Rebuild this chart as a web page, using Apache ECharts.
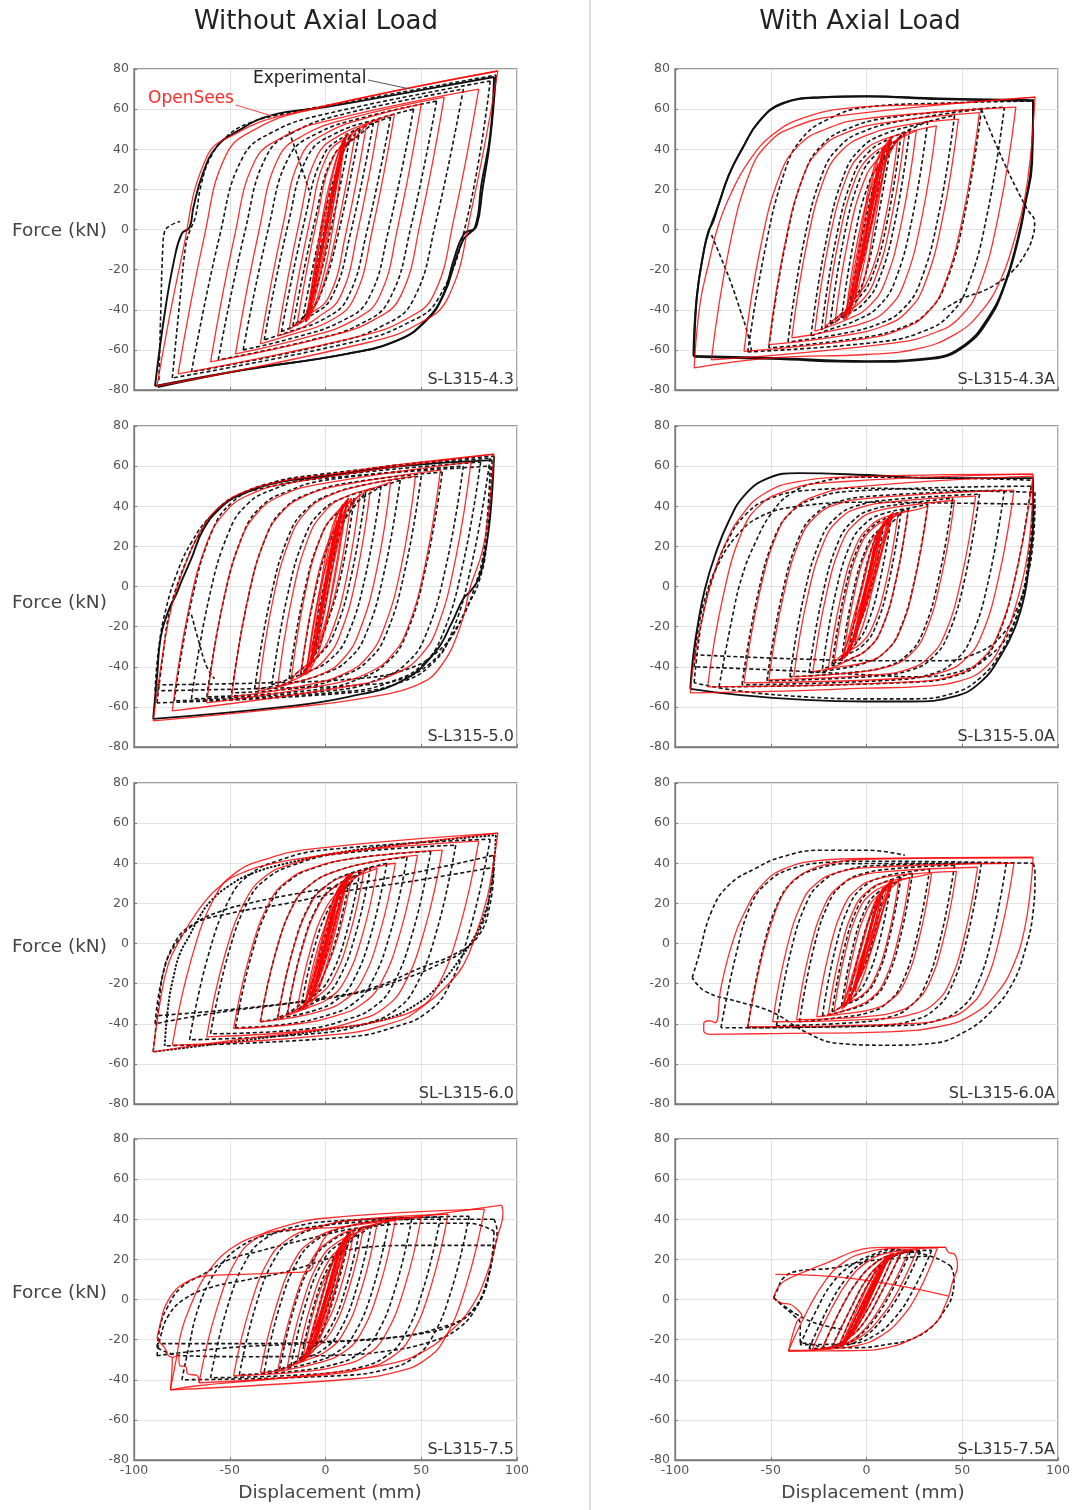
<!DOCTYPE html>
<html><head><meta charset="utf-8">
<script src="https://cdn.jsdelivr.net/npm/echarts/dist/echarts.min.js"></script>
<style>html,body{margin:0;padding:0;background:#fff}#chart{width:1075px;height:1510px}</style>
</head><body><div id="chart"></div>
<script>
// Force–displacement hysteresis, experimental (black) vs OpenSees (red).
// Each array holds loop branches; each branch is a list of [displacement mm, force kN].
// "Env" arrays are the outermost experimental loops, traced several times in the test.

const panelLabels = ['S-L315-4.3','S-L315-4.3A','S-L315-5.0','S-L315-5.0A','SL-L315-6.0','SL-L315-6.0A','S-L315-7.5','S-L315-7.5A'];
const colTitles = ['Without Axial Load','With Axial Load'];
const dispRange = [-100, 100];
const forceRange = [-80, 80];

// ---------- S-L315-4.3 ----------
const simL1 = [
[[0,0],[3,15]],[[3,15],[-3,-15]],[[-3,-15],[6,30]],[[6,30],[-6,-29]],
[[4,21],[-4,-20]],[[-4,-20],[1,4],[5,25]],[[5,25],[-1,-4],[-5,-24]],[[-5,-24],[2,9],[7,34]],
[[7,34],[-2,-10],[-7,-35]],[[-7,-35],[1,4],[6,32],[10,46]],[[10,46],[-1,-6],[-6,-30],[-9,-44]],[[-9,-44],[2,8],[8,38],[11,47]],
[[-9,-44],[-3,-2],[4,30],[10,46]],[[10,46],[4,2],[-3,-30],[-9,-45]],[[-10,-46],[1,3],[7,33],[11,47]],
[[11,47],[-1,-4],[-6,-28],[-10,-46]],[[-8,-42],[-2,0],[5,32],[9,44]],[[9,44],[2,0],[-4,-28],[-8,-42]],
[[-6,-29],[3,16],[7,34],[9,43]],[[9,43],[0,-2],[-5,-26],[-8,-40]],
[[-8,-40],[2,10],[7,33],[11,48]],[[11,48],[1,-2],[-6,-33],[-10.5,-46]],
[[-10.5,-46],[-0.1,6],[8.4,36],[12.5,45],[16,50]],
[[16,50],[5.4,-2.8],[-3.2,-33.5],[-9,-43],[-15,-48]],
[[-15,-48],[-4.3,5.6],[4.5,36.8],[16.2,46.6],[21.5,52.5]],
[[21.5,52.5],[10.6,-2],[1.7,-33.6],[-10.2,-43.4],[-19,-50]],
[[-19,-50],[-8,5],[1,37],[13,47.3],[21,52.2],[28,55]],
[[28,55],[16.8,-1.1],[7.6,-33.7],[-4.6,-44.2],[-13,-49.3],[-25,-53]],
[[-25,-53],[-13.7,3.7],[-4.4,36.6],[8,47.3],[24.6,53.9],[36,57.5]],
[[36,57.5],[24.4,-0.5],[14.9,-34.3],[2.2,-45.6],[-18.9,-52.7],[-34,-57]],
[[-34,-57],[-22.1,2.7],[-12.3,37.4],[0.7,48.2],[22.4,55.9],[50,62.5]],
[[50,62.5],[37.8,1.4],[27.8,-34.1],[14.5,-45.3],[-7.7,-53.2],[-47,-62]],
[[-47,-62],[-34.6,0],[-24.5,35.9],[-11,47.2],[11.5,55.2],[62,66]],
[[62,66],[49.5,3.3],[39.2,-33.2],[25.5,-44.9],[2.7,-53],[-60,-66]],
[[-60,-66],[-47.4,-2.8],[-37,34],[-23.2,45.6],[-0.2,53.9],[80,70]],
[[80,70],[67,5.1],[56.4,-32.7],[42.2,-44.6],[18.6,-53],[-77,-72]],
[[-77,-72],[-63.2,-3],[-51.9,37.2],[-36.8,49.9],[-11.7,58.8],[90,79]],
[[90,79],[75.8,7.8],[64.1,-33.7],[48.6,-47],[22.7,-56.2],[-88,-78]],
[[-88,-78],[-75,-13.2],[-62.1,36],[-46.6,47.9],[-20.7,57.2],[90,79]]
];
const expL1 = [
[[0,0],[4,20]],[[4,20],[-4,-20]],[[-4,-20],[3,13],[7,34]],[[7,34],[-1,-3],[-7,-33]],
[[-7,-33],[3,13],[7.5,32],[10,44]],[[10,44],[1,2],[-5,-25],[-9.5,-42]],
[[-9.5,-42],[1,7],[8,36],[13,47]],[[13,47],[3,1],[-5,-30],[-12,-45]],
[[-12,-45],[-0.9,6],[8.2,36],[13,44.5],[18,50]],
[[18,50],[6.5,-2.8],[-2.9,-33],[-10,-42],[-17,-48]],
[[-17,-48],[-5.3,5.6],[4.2,36.7],[16.9,46.6],[25,53]],
[[25,53],[13.1,-1.8],[3.3,-33.6],[-8.7,-43.6],[-23,-51]],
[[-23,-51],[-10.9,4.6],[-1,37],[11.2,47.2],[22,52],[34,56]],
[[34,56],[21.6,-1],[11.5,-34.2],[-0.5,-44.4],[-20.5,-51.5],[-32,-55]],
[[-32,-55],[-19.4,3.1],[-9,36.9],[4.8,47.7],[27.8,55.3],[46,60]],
[[46,60],[33,0],[22.3,-34.8],[8.1,-45.8],[-15.6,-53.7],[-43,-60]],
[[-43,-60],[-29.7,1],[-18.9,36.5],[-4.4,47.9],[19.7,55.8],[58,64]],
[[58,64],[44.6,1.3],[33.2,-35.2],[18.3,-47.1],[-6.5,-54.9],[-56,-65]],
[[-56,-65],[-41.9,-0.3],[-30.4,37.4],[-15,49.3],[10.6,57.8],[72,70]],
[[72,70],[57.5,3.1],[45.6,-35.5],[29.8,-48],[3.4,-56.7],[-70,-71]],
[[-70,-71],[-55.3,-3.3],[-43.2,36],[-27.1,48.8],[-0.3,57.5],[86,74]],
[[86,74],[73.9,5.3],[58.8,-34.6],[42.5,-46.8],[15.3,-55.9],[-80,-74]],
[[-80,-74],[-76,-35],[-73,-8],[-71,-1],[-68,6],[-65,22],[-60,36],[-52,46],[-40,53],[-20,58],[20,65],[89,77]],
[[-87,-75],[-86,-40],[-85,-10],[-84,-1],[-81,2],[-76,4]],
[[-19,49],[-14,35],[-8.5,19.5]]
];
const expL1Env = [
[[89,77],[86,45],[82,20],[79,2],[75,-2],[72,-5],[68,-15],[62,-32],[53,-45],[38,-55],[11,-62],[-43,-70],[-89,-78]],
[[-89,-78],[-84,-42],[-79,-15],[-75,-2],[-71,1],[-69,11],[-64,28],[-57,41],[-46,49],[-28,57],[0,61],[47,69],[88,76]],
[[88,76],[86,47],[81.5,23],[78,1],[72.5,-2],[67,-15],[61.7,-32],[52.7,-45],[38.3,-55],[11.3,-62],[-42.6,-70],[-87.6,-78.6]]
];

// ---------- S-L315-5.0 ----------
const simL2 = [
[[0,0],[4,24]],[[4,24],[-4,-24]],[[-4,-24],[4,22],[8,38]],[[8,38],[0,-2],[-4,-22],[-7,-38]],
[[4,24],[-4,-23]],[[-4,-23],[1,5],[6,33]],[[6,33],[-1,-6],[-6,-33]],[[-6,-33],[2,10],[9,40]],
[[9,40],[-1,-8],[-8,-40]],[[-8,-40],[1,5],[7,34],[12,44]],[[12,44],[0,-6],[-7,-35],[-11,-44]],
[[-10,-43],[-3,-2],[4,31],[11,43]],[[11,43],[4,2],[-3,-31],[-10,-44]],[[-11,-44],[1,3],[7,34],[12,44]],
[[12,44],[-1,-4],[-6,-30],[-11,-44]],[[-8,-40],[-2,0],[5,32],[9,41]],[[9,41],[2,0],[-4,-28],[-8,-40]],
[[-7,-38],[3,20],[8,36],[11,42]],[[11,42],[2,-10],[-6,-34],[-10,-43]],
[[-10,-43],[-3.6,-4.3],[4.3,23],[9,36],[13.5,44]],
[[13.5,44],[6.9,4.6],[-1.2,-23.5],[-7,-36],[-13,-45]],
[[-13,-45],[-6.3,-5],[1.9,23.6],[9.3,35.2],[14,41],[18,46]],
[[18,46],[11.2,5.3],[2.8,-23.7],[-4.8,-35.4],[-13.8,-42],[-18,-47]],
[[-18,-47],[-11,-5.2],[-2.5,24.5],[5.3,36.6],[14.6,43.2],[23.5,49]],
[[23.5,49],[16.4,6.3],[7.5,-24.3],[-0.4,-36.5],[-9.9,-43.3],[-25,-50]],
[[-25,-50],[-17.7,-6.4],[-8.8,24.6],[-0.7,37.1],[9,44.2],[26.8,49.6],[34,52]],
[[34,52],[26.7,8],[17.4,-23.2],[9.3,-36],[-0.5,-43],[-18.5,-48.5],[-35,-52]],
[[-35,-52],[-27.6,-7.4],[-18.3,24.4],[-10,37.3],[-0.1,44.4],[18,50.1],[47,55]],
[[47,55],[39.5,9.8],[29.9,-22.4],[21.5,-35.5],[11.5,-42.7],[-7,-48.5],[-49,-55]],
[[-49,-55],[-41.2,-9.1],[-31.7,23.5],[-23,36.8],[-12.7,44.2],[6.4,50.1],[60,58]],
[[60,58],[52.2,11.5],[42.6,-21.6],[33.9,-35],[23.5,-42.5],[4.3,-48.4],[-62,-58]],
[[-62,-58],[-54.1,-10.5],[-44.1,23.3],[-35.3,37],[-24.7,44.6],[-5.4,50.6],[76,62]],
[[76,62],[67.9,13.7],[58.3,-20.7],[49.4,-34.7],[38.6,-42.4],[18.9,-48.6],[-80,-62]],
[[-80,-62],[-71.7,-12.5],[-61.5,22.8],[-52.3,37.1],[-41.2,45.1],[-20.8,51.3],[88,66]],
[[88,66],[85.5,40],[82,18],[75.7,0],[70.4,-20],[60,-40],[48,-49],[20,-55.6],[-20,-60.5],[-90,-67]],
[[-90,-67],[-86,-40],[-82,-17],[-78,-2],[-72,14],[-65,28],[-56,39],[-44,46.5],[-23,52.5],[0,55.6],[37,60.6],[88,66]]
];
const expL2 = [
[[0,0],[5,28]],[[5,28],[-5,-28]],[[-5,-28],[3,15],[7,32],[9,40]],[[9,40],[1,-3],[-4,-26],[-8,-39]],
[[-8,-39],[-1.3,-2],[6.9,24],[11,36],[15,44]],
[[15,44],[7.9,4.8],[-0.8,-23],[-6,-35],[-13,-44]],
[[-13,-44],[-5.7,-4],[3.2,24.5],[11.3,35.2],[16,41],[21,47]],
[[21,47],[13.5,5.6],[4.3,-23.8],[-4,-35],[-12,-41],[-19,-46]],
[[-19,-46],[-11.4,-4.2],[-2.1,25.6],[6.4,36.8],[16.5,42.4],[29,50]],
[[29,50],[21.1,6.4],[11.4,-24.7],[2.6,-36.3],[-8,-42],[-28,-49]],
[[-28,-49],[-20,-5.1],[-10.3,26],[-1.5,38],[9,44],[28,49.5],[39,53]],
[[39,53],[30.7,7.5],[20.6,-24.8],[11.4,-36.9],[0.4,-43],[-20,-48.5],[-37,-51]],
[[-37,-51],[-28.7,-5.6],[-18.6,26.8],[-9.4,39],[1.6,45.5],[22,51],[50,55]],
[[50,55],[41.5,8.2],[31.1,-25],[21.6,-37.5],[10.3,-44],[-10,-50],[-49,-53]],
[[-49,-53],[-40.5,-6.2],[-30.1,27],[-20.6,39.6],[-9.3,46],[11,51.5],[61,57]],
[[61,57],[52.2,8.8],[41.5,-25.4],[31.8,-38.2],[20,-45],[-1,-51],[-62,-55]],
[[-62,-55],[-53.2,-6.9],[-42.5,27.4],[-32.8,40.5],[-21,47],[0,53],[72,60]],
[[72,60],[62.9,10],[51.8,-25.5],[41.7,-38.8],[29.6,-45.5],[7.4,-51.5],[-70,-56]],
[[-70,-56],[-61.1,-7],[-50.2,27.9],[-40.3,41.5],[-28.4,48],[-6.6,54],[81,62]],
[[81,62],[71.7,10.7],[60.3,-25.8],[50,-39.5],[37.5,-46.3],[14.8,-52],[-79,-57]],
[[-79,-57],[-69.9,-7],[-58.8,28.5],[-48.7,42],[-36.6,48.5],[-14.4,54.5],[86,64]],
[[86,64],[76.4,11.4],[64.7,-26],[54,-40],[41.3,-47],[17.8,-52.5],[-88,-58]],
[[-88,-58],[-85,-35],[-82,-15],[-78,-1],[-73,12],[-66,26],[-57,38],[-45,46],[-24,52.5],[0,55.6],[37,60.5],[88,65]],
[[87,63],[84,20],[80,2],[74,-10],[66,-25],[55,-38],[40,-46],[20,-49],[-20,-50.5],[-89,-52]],
[[-89,-52],[-87,-30],[-83,-10],[-77,8],[-70,22],[-60,35],[-48,44],[-28,50],[0,54],[86,60]],
[[86,60],[83,20],[78,0],[70,-18],[58,-33],[40,-42],[15,-46],[-30,-48],[-88,-49]],
[[-70,-14],[-66,-28],[-62,-40],[-58,-46]]
];
const expL2Env = [
[[88,65],[86,35],[83,15],[80,4],[76,-2],[72,-6],[66,-18],[57,-33],[40,-47],[12,-55],[-22,-60],[-90,-66]],
[[-90,-66],[-88,-45],[-86,-25],[-82,-12],[-78,-4],[-75,3],[-70,14],[-64,28],[-55,39],[-44,46],[-24,52],[0,55],[40,60],[87,63]]
];

// ---------- SL-L315-6.0 ----------
const simL3 = [
[[0,0],[4,17]],[[4,17],[-4,-17]],[[-4,-17],[4,16],[8,29]],[[8,29],[0,-4],[-8,-28]],
[[4,17],[-4,-16]],[[-4,-16],[2,9],[7,27]],[[7,27],[-1,-7],[-7,-26]],[[-7,-26],[2,8],[8,28],[12,34]],
[[12,34],[0,-5],[-7,-25],[-12,-33]],[[-12,-33],[1,4],[8,26],[13,35]],
[[-11,-32],[-3,-2],[5,24],[12,34]],[[12,34],[4,2],[-4,-24],[-11,-33]],[[-12,-33],[1,3],[8,27],[13,35]],
[[13,35],[-1,-4],[-7,-24],[-12,-33]],[[-9,-29],[-2,0],[5,24],[10,31]],[[10,31],[2,0],[-5,-22],[-9,-29]],
[[-8,-28],[2,12],[7,27],[11,33]],[[11,33],[3,1],[-5,-22],[-11,-32]],
[[-11,-32],[-4.1,-2.3],[4.3,18.8],[10,28.5],[14,35]],
[[14,35],[6.8,4.2],[-1.9,-17.7],[-8,-28],[-15,-34]],
[[-15,-34],[-7.8,-3],[1,19.1],[9,27.4],[14.6,32],[20,36]],
[[20,36],[12.6,4.3],[3.6,-18.3],[-4.6,-26.7],[-12,-31],[-20,-35.7]],
[[-20,-35.7],[-12.5,-3.4],[-3.3,19.5],[5,28.3],[15,33],[27,37.5]],
[[27,37.5],[19.4,4.6],[10,-18.7],[1.5,-27.5],[-8.7,-31.8],[-25,-37.4]],
[[-25,-37.4],[-17.2,-3.9],[-7.7,19.9],[0.9,29],[11.3,34],[30,39],[36.5,40]],
[[36.5,40],[28.4,5.4],[18.6,-19.3],[9.6,-28.5],[-1.1,-33.3],[-20.8,-37.5],[-34,-39]],
[[-34,-39],[-25.9,-4.1],[-16,20.7],[-7,30],[3.8,35.5],[23.6,40.5],[48,44]],
[[48,44],[39.3,6.4],[28.6,-20.3],[18.9,-30.3],[7.3,-35.5],[-14,-40],[-48,-42.4]],
[[-48,-42.4],[-39.3,-4.9],[-28.6,21.8],[-18.9,32],[-7.3,37.5],[14,42.3],[61,46.5]],
[[61,46.5],[51.7,6.7],[40.4,-21.6],[30.1,-32.5],[17.7,-38],[-5,-43],[-62,-46.5]],
[[-62,-46.5],[-52.6,-6],[-41.1,22.8],[-30.7,34],[-18.1,39.5],[4.9,45],[80,51]],
[[80,51],[70,7.8],[57.7,-22.9],[46.6,-34.4],[33.2,-40],[8.6,-45],[-80,-50.7]],
[[-80,-50.7],[-69.9,-7.2],[-57.5,23.8],[-46.3,35.7],[-32.8,41.5],[-8,47],[90,55]],
[[90,55],[87,35.7],[84.3,22.4],[79,5.8],[72,-10.8],[63.5,-20.8],[51.3,-30.7],[34,-37.4],[2.6,-42.4],[-40.9,-47.3],[-90,-54]],
[[-90,-54],[-86.5,-30],[-82,-10],[-75.6,2.5],[-67,15.8],[-56.5,27.4],[-44.3,34.9],[-23.5,40.7],[0,44],[37.4,49],[90,55]]
];
const expL3 = [
[[0,0],[5,20]],[[5,20],[-5,-20]],[[-5,-20],[3,12],[9,30]],[[9,30],[1,-4],[-9,-29]],
[[-9,-29],[-2,-2],[5,19],[10,29],[13,34]],[[13,34],[6,4],[-2,-18],[-8,-28],[-13,-33]],
[[-13,-33],[-5.9,-2.4],[2.8,19.4],[10.7,27.5],[18,36]],
[[18,36],[10.7,4.5],[1.7,-17.9],[-6.4,-26.3],[-14,-31],[-20,-35]],
[[-20,-35],[-12.5,-2.8],[-3.4,20],[5,28.6],[14.9,33.5],[23.5,38]],
[[23.5,38],[15.8,5],[6.4,-18.6],[-2.2,-27.4],[-12.4,-32],[-25,-37]],
[[-25,-37],[-17.2,-3.5],[-7.7,20.4],[1,29.3],[11.3,34.4],[32,40]],
[[32,40],[24,5.4],[14.1,-19.3],[5.2,-28.5],[-5.6,-33.3],[-25,-37.5],[-34,-39]],
[[-34,-39],[-25.9,-4.1],[-16,20.7],[-7,30],[3.8,35.5],[23.6,40.5],[42.6,43]],
[[42.6,43],[34,5.9],[23.4,-20.5],[13.8,-30.4],[2.3,-35.4],[-19,-40],[-47,-42]],
[[-47,-42],[-38.3,-4.6],[-27.7,21.9],[-18,32],[-6.5,37.5],[14.8,42.5],[55,46]],
[[55,46],[45.8,6.4],[34.5,-21.8],[24.3,-32.3],[12,-37.6],[-10.6,-42.7],[-60,-45]],
[[-60,-45],[-50.8,-5.4],[-39.5,22.8],[-29.3,33.3],[-17,39],[5,44.5],[68,49]],
[[68,49],[58.3,7.1],[46.4,-22.6],[35.6,-33.8],[22.6,-39.5],[-1,-44.5],[-71,-48]],
[[-71,-48],[-61.3,-6.2],[-49.4,23.6],[-38.6,35],[-25.6,41],[-1.9,46.5],[86,52]],
[[86,52],[75.7,7.9],[63.2,-23.5],[51.8,-35.2],[38.1,-41],[13,-46.5],[-84,-51]],
[[-90,-54],[-87,-30],[-84,-12],[-78,0],[-68,10],[-55,16],[-40,20],[-20,24],[10,29],[40,34],[88,44]],
[[88,44],[86,26],[82,10],[74,-2],[60,-10],[40,-18],[15,-25],[-20,-30],[-60,-35],[-89,-40]],
[[-89,-40],[-86,-20],[-80,-2],[-70,9],[-50,15],[-20,20],[10,26],[45,31],[88,38]],
[[88,38],[86,20],[80,4],[68,-5],[50,-12],[25,-22],[0,-27],[-40,-32],[-88,-36]]
];
const expL3Env = [
[[-84,-51],[-82,-30],[-79,-15],[-76,-5],[-71,4],[-66,13],[-60,21],[-50,29],[-38,35],[-20,40],[5,45],[40,49.5],[89,54]],
[[89,54],[88,40],[86,25],[82,12],[77,2],[70,-8],[60,-20],[48,-30],[30,-38],[0,-43],[-40,-48],[-90,-54]]
];

// ---------- S-L315-7.5 ----------
const simL4 = [
[[0,0],[4,14]],[[4,14],[-4,-14]],[[-4,-14],[4,12],[8,26]],[[8,26],[0,-5],[-8,-25]],
[[4,15],[-4,-14]],[[-4,-14],[2,8],[7,25]],[[7,25],[-1,-6],[-7,-24]],[[-7,-24],[2,9],[8,27],[12,33]],
[[12,33],[0,-5],[-7,-24],[-12,-31]],[[-12,-31],[1,3],[8,25],[14,35]],
[[-11,-30],[-3,-2],[5,22],[12,33]],[[12,33],[4,2],[-4,-22],[-11,-30]],[[-12,-31],[1,3],[8,26],[13,34]],
[[13,34],[-1,-4],[-7,-23],[-12,-31]],[[-9,-27],[-2,0],[5,22],[10,30]],[[10,30],[2,0],[-5,-20],[-9,-27]],
[[-8,-25],[2,8],[8,25],[12,32]],[[12,32],[4,2],[-5,-20],[-12,-30]],
[[-12,-30],[-4.9,-1.6],[3.8,18.5],[10,27.5],[15,34.5]],
[[15,34.5],[7.6,5],[-1.4,-15.9],[-8,-24.5],[-15,-32]],
[[-15,-32],[-7.4,-1.8],[1.8,19.6],[10.2,27.6],[20,36.5]],
[[20,36.5],[12.2,5.5],[2.7,-16.6],[-5.9,-24.9],[-12,-29.5],[-20,-34]],
[[-20,-34],[-12.1,-2.3],[-2.4,20.3],[6.4,28.7],[16.9,33.5],[27,38]],
[[27,38],[18.9,5.6],[9,-17.4],[0,-26],[-10.8,-30.5],[-25,-35.7]],
[[-25,-35.7],[-16.8,-2.9],[-6.7,20.7],[2.5,29.5],[13.4,34.5],[33,39],[36.5,39.5]],
[[36.5,39.5],[28.1,6],[17.9,-17.9],[8.6,-26.8],[-2.6,-31.3],[-23,-35.5],[-34,-36.5]],
[[-34,-36.5],[-25.6,-3],[-15.4,20.9],[-6.1,29.8],[5,35],[25.5,39],[50,41]],
[[50,41],[41.3,6.1],[30.6,-18.7],[20.9,-28],[9.3,-32.6],[-12,-36],[-48,-38]],
[[-48,-38],[-39.3,-3.4],[-28.7,21.3],[-19,30.5],[-7.5,35.2],[13.8,39.5],[64,42.5]],
[[64,42.5],[55,6.3],[43.9,-19.5],[33.9,-29.1],[21.8,-34],[-0.3,-37.5],[-66,-41.5]],
[[-66,-41.5],[-56.8,-4.8],[-45.6,21.3],[-35.4,31],[-23.2,36],[-0.7,40.5],[83,45]],
[[83,45],[73.4,6.8],[61.7,-20.4],[51.1,-30.7],[38.3,-35.8],[14.9,-39.5],[-81,-45]],
[[-81,-45],[-78,-30],[-75,-15],[-70,-2],[-64,10],[-57,19],[-50,25],[-41,30],[-29,33.6],[-15,35],[0,35.7],[11,36.5],[92,47]],
[[92,47],[92.7,43],[90,32],[84,12],[76,-4],[65,-16],[51,-26],[34,-32],[3,-36.5],[-32,-40],[-67,-43],[-81,-45]],
[[-66,-41.5],[-67,-38],[-72,-37],[-73,-33.5],[-76,-33],[-77,-28],[-80,-29]],
[[-81,-45],[-80,-29],[-82,-28],[-84,-24],[-86,-22],[-88,-19]],
[[-88,-19],[-86,-11],[-84,-4],[-79,4],[-72,9],[-64,11.6],[-40,12.6],[-20,13.4],[-9,14.2],[-5,22],[-1,30],[3,34.5]]
];
const expL4 = [
[[0,0],[5,16]],[[5,16],[-5,-15]],[[-5,-15],[4,14],[9,27]],[[9,27],[1,-4],[-9,-25]],
[[-9,-25],[-1,5],[5,21],[10,29],[13,33]],[[13,33],[5,3],[-3,-18],[-9,-27],[-13,-31]],
[[-13,-31],[-5.7,-1.8],[3.3,19],[11.4,26.8],[18,35.5]],
[[18,35.5],[10.4,5.1],[1.1,-16.5],[-7.3,-24.6],[-13,-29],[-18,-33]],
[[-18,-33],[-10.3,-2.2],[-0.9,19.7],[7.7,28],[17.9,32.5],[24,37]],
[[24,37],[16.1,5.3],[6.4,-17.3],[-2.4,-25.7],[-12.9,-30],[-24,-35]],
[[-24,-35],[-15.9,-2.6],[-6,20.4],[3,29],[13.8,34],[33,38.5]],
[[33,38.5],[24.8,5.6],[14.7,-17.7],[5.6,-26.5],[-5.4,-31],[-25.5,-35.2],[-32,-36]],
[[-32,-36],[-23.7,-2.7],[-13.5,21],[-4.3,29.9],[6.8,35],[27,39],[45,40]],
[[45,40],[36.5,5.8],[26,-18.5],[16.5,-27.6],[5.1,-32.2],[-15.8,-35.7],[-45,-37.5]],
[[-45,-37.5],[-36.4,-3.1],[-25.9,21.4],[-16.3,30.6],[-4.9,35.5],[16.1,39.5],[60,41]],
[[60,41],[51.2,5.7],[40.4,-19.4],[30.6,-28.9],[18.8,-33.6],[-2.7,-37],[-60,-39]],
[[-60,-39],[-51.2,-3.7],[-40.4,21.4],[-30.6,30.9],[-18.8,35.6],[2.7,39],[75,41.5]],
[[75,41.5],[66,5.5],[55,-20],[45,-29.7],[33,-34.5],[11,-37.8],[-75,-40]],
[[-75,-40],[-71,-22],[-67,-6],[-61,8],[-54,18],[-45,26],[-33,31.5],[-15,35],[10,38],[50,40],[88,40]],
[[88,40],[89.6,34],[88,24],[84,8],[80,-2],[70,-14],[55,-21],[30,-26],[0,-28],[-40,-28.5],[-75,-28],[-88,-24]],
[[-88,-24],[-86,-12],[-82.6,-4],[-75.6,5.8],[-64,12.5],[-50,20],[-35,24],[-10,30],[20,36],[60,38],[75,38],[88,34]],
[[88,34],[87,22],[84,8],[78,-4],[68,-12],[50,-17],[20,-20],[-10,-22],[-50,-24],[-88,-28]],
[[-88,-28],[-86,-18],[-82,-8],[-74,0],[-60,6],[-40,10],[-20,14],[0,20],[20,26],[50,27],[88,27]],
[[88,27],[86,15],[82,2],[74,-8],[60,-14],[35,-19],[0,-21],[-40,-22],[-88,-22]]
];

// ---------- S-L315-4.3A ----------
const simR1 = [
[[0,0],[4,22]],[[4,22],[-4,-22]],[[-4,-22],[4,20],[8,36]],[[8,36],[0,-4],[-8,-37]],
[[4,22],[-4,-22]],[[-4,-22],[1,5],[6,33]],[[6,33],[-1,-6],[-6,-34]],[[-6,-34],[2,10],[9,41]],
[[9,41],[-1,-8],[-9,-42]],[[-9,-42],[1,4],[8,36],[13,45]],[[13,45],[0,-6],[-8,-38],[-12,-45]],
[[-11,-44],[-3,-2],[4,31],[12,45]],[[12,45],[4,2],[-3,-31],[-11,-45]],[[-12,-45],[1,3],[7,34],[13,46]],
[[13,46],[-1,-4],[-6,-30],[-12,-45]],[[-9,-41],[-2,0],[5,32],[10,42]],[[10,42],[2,0],[-4,-28],[-9,-41]],
[[-8,-37],[2,14],[8,35],[12,43]],[[12,43],[3,3],[-5,-26],[-11,-44]],
[[-11,-44],[-4.4,-4.2],[3.75,24.1],[11.1,36],[16.5,46]],
[[16.5,46],[9.7,5],[1.3,-24.1],[-6.3,-35],[-16.5,-46.6]],
[[-16.5,-46.6],[-9.6,-4.9],[-1.1,24.7],[6.6,35.8],[14,42],[20,47.6]],
[[20,47.6],[12.9,5],[4.2,-25.2],[-3.7,-36.6],[-13.2,-42.3],[-21.7,-48.3]],
[[-21.7,-48.3],[-14.5,-5.2],[-5.7,25.5],[2.3,37],[11.9,42.7],[26,49.3]],
[[26,49.3],[18.6,5.1],[9.6,-26.4],[1.4,-38.2],[-8.4,-44.1],[-27,-50.7]],
[[-27,-50.7],[-19.5,-5.8],[-10.4,26.1],[-2.1,38.5],[7.9,44.5],[26,49.5],[36.5,51.7]],
[[36.5,51.7],[28.8,5.5],[19.4,-27.4],[10.9,-39.7],[0.6,-45.9],[-18.2,-50.5],[-39,-54]],
[[-39,-54],[-31.1,-6.8],[-21.5,26.9],[-12.8,39.5],[-2.3,46],[17,51.5],[48,55]],
[[48,55],[39.9,6.4],[30,-28.2],[21,-41.1],[10.2,-47.6],[-9.6,-52.5],[-51,-57.4]],
[[-51,-57.4],[-42.7,-7.7],[-32.6,27.6],[-23.4,40.8],[-12.4,47.5],[7.9,53],[59,58.3]],
[[59,58.3],[50.5,7.3],[40.1,-28.9],[30.7,-42.5],[19.3,-49.3],[-1.5,-54.5],[-64,-60.7]],
[[-64,-60.7],[-55.3,-8.6],[-44.7,28.4],[-35,42.3],[-23.5,49.2],[-2.2,55],[78,61]],
[[78,61],[69.1,7.9],[58.3,-29.9],[48.5,-44],[36.6,-51.1],[15,-56.5],[-81,-65]],
[[-81,-65],[-71.9,-10.1],[-60.7,28.9],[-50.6,43.6],[-38.4,50.9],[-16,56.5],[88,66]],
[[88,66],[86,40],[82.6,15.4],[77.4,-4.5],[70.4,-24.3],[60,-40.8],[46,-52.4],[25.2,-59.8],[0,-62.3],[-49.6,-64],[-90,-69]],
[[-90,-69],[-87,-37.5],[-82.6,-17.7],[-77.4,2],[-70.4,18.7],[-61.7,33.6],[-49.6,46.8],[-32.2,55.9],[-6,60.8],[37.4,62.5],[88,66]]
];
const expR1 = [
[[0,0],[5,25]],[[5,25],[-5,-25]],[[-5,-25],[4,20],[9,37]],[[9,37],[1,-4],[-9,-38]],
[[-9,-38],[-2,-2],[5,26],[10,38],[13,44]],[[13,44],[6,6],[-1,-24],[-7,-36],[-13,-44]],
[[-13,-44],[-6.3,-4],[1.8,24.5],[9.2,35.2],[18,47]],
[[18,47],[11.1,5.4],[2.6,-24.2],[-5.1,-35.3],[-12,-41],[-19,-47]],
[[-19,-47],[-11.9,-4.5],[-3.25,25.8],[4.6,37.1],[14,43],[22.6,50]],
[[22.6,50],[15.3,5.9],[6.3,-25.5],[-1.9,-37.2],[-11.6,-43.1],[-23.5,-50]],
[[-23.5,-50],[-16,-5],[-6.8,27],[1.6,39],[11.6,45],[22,49.5],[32,54]],
[[32,54],[24.2,7.2],[14.7,-26.1],[6,-38.6],[-4.3,-44.8],[-18,-49.5],[-29,-53]],
[[-29,-53],[-21.1,-5.8],[-11.5,27.9],[-2.8,40.5],[7.8,47],[27,52.5],[46,57]],
[[46,57],[37.8,8],[27.8,-26.9],[18.7,-40],[7.8,-46.5],[-12,-51.8],[-41,-56]],
[[-41,-56],[-32.8,-6.5],[-22.7,28.7],[-13.5,41.9],[-2.6,48.5],[17.6,54],[60,60]],
[[60,60],[51.5,8.7],[41,-27.8],[31.5,-41.5],[20.1,-48.3],[-0.8,-53.7],[-51,-59]],
[[-51,-59],[-42.4,-7.5],[-31.9,29.2],[-22.4,42.9],[-10.9,49.8],[10.1,55.5],[72,61]],
[[72,61],[63.2,8.4],[52.5,-29.1],[42.8,-43.1],[31.1,-50.2],[9.6,-55.7],[-62,-61]],
[[-62,-61],[-53,-10],[-43,28],[-34,45],[-20,55],[0,61],[40,63],[87,64]],
[[-80.9,-2.8],[-76,-14],[-71,-26],[-66,-40],[-62,-52],[-60,-60.7]],
[[60,60],[66,46],[72,33],[78,21],[84,10],[87.8,3.8],[87,-3],[83,-12],[76,-21],[68,-27],[60,-31],[51,-34],[40,-40]]
];
const expR1Env = [
[[87,64],[86,31.9],[82.6,12],[79,-4.5],[72,-27.6],[63.5,-44],[51.3,-57.4],[34,-64],[0,-65.6],[-49.6,-64],[-90.4,-63]],
[[-90.4,-63],[-88.7,-34],[-85,-11],[-82.6,-1],[-80,4],[-77.4,12],[-72,27],[-65,40],[-56.5,53.4],[-44.3,62.5],[-23.5,65.8],[0,66.3],[37.4,65],[87,64.1]],
[[87,64.5],[86.5,33],[83,13],[79.5,-4],[72.5,-27],[64,-44.5],[51.5,-58],[34,-64.5],[0,-66],[-49.6,-64.5],[-90,-63.5]],
[[-90,-63.5],[-88.5,-33],[-84.8,-10],[-82,0],[-77,13],[-71.5,28],[-64.5,41],[-56,54],[-44,63],[-23,66],[0,66.5],[38,65.3],[87.5,64.5]]
];

// ---------- S-L315-5.0A ----------
const simR2 = [
[[0,0],[4,20]],[[4,20],[-4,-20]],[[-4,-20],[4,18],[8,30]],[[8,30],[0,-6],[-8,-30]],
[[4,20],[-4,-19]],[[-4,-19],[1,5],[6,27]],[[6,27],[-1,-6],[-6,-28]],[[-6,-28],[2,9],[9,32]],
[[9,32],[-1,-8],[-9,-33]],[[-9,-33],[1,3],[8,28],[14,36]],[[14,36],[0,-6],[-8,-30],[-14,-37]],
[[-12,-35],[-3,-2],[5,25],[13,36]],[[13,36],[4,2],[-4,-25],[-12,-36]],[[-13,-36],[1,3],[8,28],[14,37]],
[[14,37],[-1,-4],[-7,-26],[-13,-37]],[[-10,-32],[-2,0],[5,25],[11,33]],[[11,33],[2,0],[-5,-23],[-10,-32]],
[[-8,-30],[2,10],[8,28],[12,35]],[[12,35],[3,0],[-5,-22],[-12,-35]],
[[-12,-35],[-6.2,-3],[0.9,19.7],[7.4,28.2],[16.5,36.5]],
[[16.5,36.5],[10.5,3.4],[3.1,-20.1],[-3.6,-28.9],[-11.6,-33.3],[-17,-38]],
[[-17,-38],[-10.8,-4],[-3.3,20.1],[3.6,29.2],[11.8,33.7],[21.7,38]],
[[21.7,38],[15.3,2.9],[7.5,-22],[0.4,-31.4],[-8.1,-36.1],[-20,-41.5]],
[[-20,-41.5],[-13.4,-5.3],[-5.4,20.5],[1.9,30.1],[10.7,35],[26.7,38.5],[32,40]],
[[32,40],[25.3,3.3],[17.2,-22.8],[9.8,-32.5],[0.9,-37.4],[-15.4,-40.3],[-28,-42.4]],
[[-28,-42.4],[-21.1,-4.6],[-12.7,22.2],[-5,32.3],[4.1,37.3],[21,40.3],[46,43]],
[[46,43],[38.9,3.9],[30.2,-24],[22.3,-34.4],[12.8,-39.6],[-4.6,-42.7],[-38,-45]],
[[-38,-45],[-30.8,-5.2],[-21.9,23.1],[-13.9,33.8],[-4.2,39.1],[13.5,42.2],[57,45]],
[[57,45],[49.6,4.3],[40.5,-24.7],[32.3,-35.5],[22.4,-41],[4.2,-44.1],[-51,-46.5]],
[[-51,-46.5],[-43.5,-5.1],[-34.3,24.3],[-26,35.4],[-15.9,40.9],[2.4,44.1],[77,48]],
[[77,48],[69.2,5.3],[59.7,-25.2],[51.1,-36.6],[40.7,-42.3],[21.7,-45.6],[-64,-48]],
[[-64,-48],[-56,-3.9],[-46.2,27.5],[-37.3,39.2],[-26.6,45.1],[-7,49.5],[87,55]],
[[87,55],[78.5,8.2],[68.1,-25.1],[58.7,-37.6],[47.3,-43.8],[26.5,-47.4],[-83,-50]],
[[-83,-50],[-74.7,-4.1],[-64.5,28.5],[-55.3,40.8],[-44.2,46.9],[-23.8,51.5],[87,56]],
[[87,56],[86,32.4],[83.5,12.5],[79,-5.8],[72,-25.7],[61.7,-40.7],[47.8,-47.3],[28.7,-49.8],[0,-50.7],[-49.6,-52.3],[-92,-53]],
[[-92,-53],[-89.6,-34],[-86,-17.4],[-81,2.5],[-74,20.8],[-65,35.7],[-53,46.5],[-35.7,52.3],[0,54.8],[87,56]]
];
const expR2 = [
[[0,0],[5,22]],[[5,22],[-5,-22]],[[-5,-22],[4,18],[9,31]],[[9,31],[1,-6],[-9,-31]],
[[-9,-31],[-3,-2],[3,20],[8,29],[13,35]],[[13,35],[7,3],[0,-20],[-6,-29],[-13,-36]],
[[-13,-36],[-7.1,-3.4],[0.2,19.8],[6.8,28.5],[14.5,33],[18,37]],
[[18,37],[11.9,3.3],[4.4,-20.8],[-2.4,-29.8],[-10.6,-34.3],[-18,-39]],
[[-18,-39],[-11.7,-4.1],[-3.9,20.7],[3.2,30],[11.6,34.6],[22,39]],
[[22,39],[15.5,3.5],[7.6,-21.8],[0.4,-31.3],[-8.2,-36],[-23,-41]],
[[-23,-41],[-16.4,-4.5],[-8.3,21.4],[-1,31.1],[7.9,36],[24,39.4],[32,41]],
[[32,41],[25.2,3.7],[16.9,-22.9],[9.4,-32.9],[0.3,-37.8],[-16.3,-41.4],[-30,-43]],
[[-30,-43],[-23,-4.5],[-14.5,22.8],[-6.7,33.1],[2.6,38.2],[19.6,41.2],[45,44]],
[[45,44],[37.8,4.4],[29,-23.8],[21,-34.3],[11.4,-39.6],[-6.2,-42.7],[-40,-45]],
[[-40,-45],[-32.7,-4.7],[-23.7,23.9],[-15.6,34.7],[-5.8,40],[12.2,43.2],[59,46]],
[[59,46],[51.5,4.6],[42.3,-24.8],[34,-35.9],[23.9,-41.4],[5.6,-44.6],[-52,-47]],
[[-52,-47],[-44.3,-4.9],[-35,25],[-26.5,36.2],[-16.3,41.8],[2.4,45],[72,48]],
[[72,48],[64.1,4.8],[54.5,-25.9],[45.8,-37.4],[35.3,-43.2],[16,-46.5],[-65,-49]],
[[-65,-49],[-57,-5.1],[-47.3,26.1],[-38.4,37.8],[-27.8,43.6],[-8.4,47.5],[86,50]],
[[86,50],[77.9,5.5],[68,-26.2],[59,-38.1],[48.2,-44],[28.4,-47.5],[-77,-50]],
[[-77,-50],[-70,-15],[-65,5],[-58,22],[-50,36],[-40,46],[-25,52],[0,54.5],[87,53]],
[[87,54],[86.5,34],[84.5,14],[82,-2],[77,-19],[70,-33],[60,-45],[46,-53],[23,-56],[0,-56],[-32,-55],[-67,-52],[-90,-48]],
[[-90,-48],[-88,-30],[-85,-12],[-80,5],[-73,22],[-63,36],[-50,44],[-30,48],[0,49],[40,48],[88,47]],
[[88,47],[87,28],[85,10],[81,-6],[75,-22],[65,-34],[50,-42],[25,-45],[0,-44],[-40,-42],[-90,-40]],
[[-90,-40],[-88,-22],[-84,-5],[-78,10],[-68,25],[-55,35],[-35,40],[0,42],[50,41.5],[88,41]],
[[88,41],[87,22],[84,5],[79,-10],[71,-24],[58,-33],[40,-37],[10,-37],[-40,-36],[-90,-34]]
];
const expR2Env = [
[[87,53],[87,32.4],[85,12.5],[82.6,-4],[77.4,-20.8],[70.4,-34],[60,-47.3],[46,-54.8],[23.5,-57.3],[0,-57.3],[-32,-56.5],[-67,-54],[-92,-51]],
[[-92,-51],[-90.4,-34],[-87.8,-17.4],[-84.3,-1],[-79,15.8],[-72,32.4],[-63.5,45.7],[-51.3,54],[-35.7,56.5],[0,55.6],[37.4,54],[87,54]]
];

// ---------- SL-L315-6.0A ----------
const simR3 = [
[[0,0],[4,16]],[[4,16],[-4,-16]],[[-4,-16],[4,14],[8,26]],[[8,26],[0,-6],[-8,-26]],
[[4,16],[-4,-16]],[[-4,-16],[1,4],[6,23]],[[6,23],[-1,-6],[-6,-24]],[[-6,-24],[2,8],[9,28]],
[[9,28],[-1,-8],[-9,-29]],[[-9,-29],[1,3],[8,25],[14,31]],[[14,31],[0,-6],[-8,-26],[-14,-32]],
[[-12,-31],[-3,-2],[5,22],[13,31]],[[13,31],[4,2],[-4,-22],[-12,-32]],[[-13,-32],[1,3],[8,25],[14,32]],
[[14,32],[-1,-4],[-7,-23],[-13,-33]],[[-10,-28],[-2,0],[5,21],[11,29]],[[11,29],[2,0],[-5,-20],[-10,-28]],
[[-8,-26],[2,8],[8,24],[12,30]],[[12,30],[3,-2],[-5,-20],[-12,-31]],
[[-12,-31],[-6.4,-2.9],[0.5,17.1],[6.8,24.6],[13.8,28.4],[17,32]],
[[17,32],[11.2,2.8],[4,-18],[-2.5,-25.9],[-10.3,-29.8],[-17,-34]],
[[-17,-34],[-11,-4.1],[-3.7,17.2],[2.9,25.2],[10.9,29.2],[22.6,33]],
[[22.6,33],[16.5,2.4],[9,-19.4],[2.2,-27.5],[-6,-31.6],[-20,-35.7]],
[[-20,-35.7],[-13.7,-4.3],[-6.1,18],[0.9,26.3],[9.2,30.5],[24.5,33],[34,35]],
[[34,35],[27.6,3],[19.8,-19.7],[12.7,-28.2],[4.2,-32.4],[-11.4,-35],[-26,-36.5]],
[[-26,-36.5],[-19.5,-4.1],[-11.6,19],[-4.4,27.6],[4.2,31.9],[20,34.4],[47,36]],
[[47,36],[40.4,2.9],[32.3,-20.6],[25,-29.4],[16.1,-33.8],[0,-36.4],[-36.5,-38]],
[[-36.5,-38],[-29.8,-4.3],[-21.5,19.8],[-14,28.8],[-5,33.3],[11.5,35.9],[58,38]],
[[58,38],[51.1,3.6],[42.7,-20.9],[35.1,-30.1],[25.9,-34.7],[9,-37.4],[-49,-39]],
[[-49,-39],[-42,-3.9],[-33.4,21.1],[-25.6,30.4],[-16.2,35.1],[0.9,37.8],[77,40]],
[[77,40],[69.7,3.6],[60.8,-22.4],[52.7,-32.1],[43,-37],[25.2,-39.8],[-62,-41.5]],
[[-62,-41.5],[-55,-8],[-49,12],[-42,27],[-32,35.5],[-18,40],[0,42],[87,43]],
[[87,43],[85.7,27.4],[82.6,7.5],[77.4,-9.1],[68.7,-24],[54.8,-35.7],[37.4,-41.5],[11.3,-44],[-49.6,-44.9],[-82.6,-45.3]],
[[-82.6,-45.3],[-85,-43.5],[-85,-40],[-82,-38.5],[-79,-39.5],[-76,-22],[-70.4,-0.8],[-63.5,15.8],[-54.8,29],[-42.6,37.4],[-23.5,41.5],[0,42.4],[87,42.7]]
];
const expR3 = [
[[0,0],[5,18]],[[5,18],[-5,-18]],[[-5,-18],[4,15],[9,27]],[[9,27],[1,-6],[-9,-27]],
[[-9,-27],[-3,-1],[4,18],[9,26],[13,31]],[[13,31],[7,2],[0,-18],[-6,-26],[-13,-31]],
[[-13,-31],[-7.3,-2.4],[-0.3,17.9],[6.1,25.5],[13.7,29.3],[18,33]],
[[18,33],[12,3.1],[4.7,-18.2],[-2,-26.2],[-9.9,-30.2],[-18,-34]],
[[-18,-34],[-11.8,-3.2],[-4.3,18.7],[2.6,27],[10.8,31.1],[24,35]],
[[24,35],[17.7,3.3],[9.9,-19.3],[2.9,-27.7],[-5.6,-32],[-23,-36]],
[[-23,-36],[-16.5,-3.4],[-8.5,19.8],[-1.3,28.5],[7.5,32.9],[23.4,35.9],[33,37]],
[[33,37],[26.3,3.3],[18,-20.8],[10.5,-29.8],[1.5,-34.3],[-15,-37],[-35,-39]],
[[-35,-39],[-28,-4.1],[-19.5,20.7],[-11.8,30],[-2.5,34.6],[14.6,37.3],[46,39]],
[[46,39],[38.8,3.2],[30.1,-22.2],[22.2,-31.8],[12.6,-36.5],[-4.9,-39.3],[-47,-41]],
[[-47,-41],[-39.7,-4.6],[-30.8,21.4],[-22.7,31.1],[-13,36],[4.8,38.8],[60,40]],
[[60,40],[52.6,3.1],[43.6,-23.1],[35.4,-33],[25.6,-37.9],[7.5,-40.8],[-62,-42]],
[[-62,-42],[-54.5,-4.6],[-45.4,21.9],[-37.1,31.9],[-27.1,36.9],[-8.9,39.8],[73,40]],
[[73,40],[65.6,3.1],[56.6,-23.1],[48.4,-33],[38.6,-37.9],[20.5,-40.8],[-76,-42]],
[[-76,-42],[-68,-5],[-60,20],[-51,31],[-40,37],[-20,40.5],[0,41],[87,40]],
[[87,40],[88,35.7],[87,15.8],[82.6,-4],[75.7,-20.8],[65,-34],[51.3,-44],[34,-49.8],[11.3,-50.7],[-14.8,-49.8],[-32,-44],[-49.6,-34],[-67,-29],[-84,-24],[-91,-17]],
[[-91,-17],[-88,-7.5],[-81,15.8],[-72,29],[-58,37.4],[-44,43.2],[-23.5,46.5],[0,46.5],[20,44]]
];

// ---------- S-L315-7.5A ----------
const simR4 = [
[[0,0],[4,9]],[[4,9],[-4,-9]],[[-4,-9],[8,17]],[[8,17],[-8,-17]],
[[3,6],[-3,-6]],[[-3,-6],[6,12]],[[6,12],[-6,-12]],[[-6,-12],[2,3],[9,18]],
[[9,18],[-2,-5],[-9,-18]],[[-9,-18],[0,0],[8,15],[12,22]],[[12,22],[0,-2],[-8,-16],[-13,-23]],
[[-13,-23],[-4,-3],[5,15],[12,22]],[[12,22],[3,3],[-5,-14],[-13,-23]],[[-14,-23.5],[-1,0],[8,17],[13,23]],
[[13,23],[0,-1],[-8,-17],[-14,-24]],[[-11,-21],[-2,-1],[6,14],[11,20]],[[11,20],[2,1],[-6,-14],[-11,-21]],
[[-8,-17],[4,8],[11,21]],[[11,21],[-1,-5],[-11,-20]],
[[-11,-20],[-2,-2],[6,12],[11,19],[14.3,23]],
[[14.3,23],[5,3],[-4,-12],[-10,-19],[-14.5,-23]],
[[-14.5,-23],[-5,-3],[3,11],[10,19],[17.8,23.3]],
[[17.8,23.3],[8,4],[-1,-11],[-9,-19],[-18,-24]],
[[-18,-24],[-8,-4],[0,10],[8,18.5],[15,22.2],[22,24]],
[[22,24],[12,4],[3,-10],[-5,-18.5],[-13,-22.5],[-23.2,-24.5]],
[[-23.2,-24.5],[-13,-4],[-4,10],[5,18.5],[14,22.8],[26.5,24.9]],
[[26.5,24.9],[16,3.5],[6,-10.5],[-3,-18.5],[-13,-22.8],[-28.4,-25]],
[[-28.4,-25],[-18,-4],[-9,10],[0,18.5],[10,23],[25,25.2],[37,25.7]],
[[37,25.7],[27,3.5],[17,-10.5],[7,-18.5],[-4,-22.8],[-20,-24.8],[-40.7,-25.4]],
[[-40.7,-25.4],[-30,-4],[-21,10],[-12,18.5],[-2,23],[15,25.5],[41.4,26]],
[[41.4,26],[43,23.3],[45.7,22.8],[47.5,16.6],[45,9],[43,1.7],[41,-3],[37,-10.8],[28.3,-17.4],[19.5,-21.6],[10.8,-24],[0,-25.4],[-20,-25.6],[-40.7,-25.8]],
[[-40.7,-25.8],[-36.3,-10.8],[-33.7,-8.3],[-35.3,-5.8],[-39.6,-2.5],[-44.9,-1.7],[-48.5,0.8]],
[[-48.5,0.8],[-45,7.5],[-38,11.6],[-29.3,15],[-18.8,19],[-8.4,23.3],[2,25.7],[10,26],[41.4,26]],
[[-47.6,12.5],[-8,10.5],[43,1.7]]
];
const expR4 = [
[[0,0],[4,9]],[[4,9],[-4,-9]],[[-4,-9],[8,17]],[[8,17],[-8,-17]],
[[-8,-17],[4,7],[11,20]],[[11,20],[-1,-4],[-11,-20]],
[[-11,-20],[-2,-2],[6,12],[10,18],[14,22]],
[[14,22],[5,3],[-4,-12],[-9,-18.5],[-14,-22.5]],
[[-14,-22.5],[-5,-3],[3,11],[10,19],[18,23]],
[[18,23],[8,4],[-1,-11],[-9,-19],[-18,-23.5]],
[[-18,-23.5],[-8,-4],[0,10],[8,18],[15,22],[23,24]],
[[23,24],[13,4],[4,-10],[-4,-18],[-12,-22.5],[-23,-24.5]],
[[-23,-24.5],[-13,-4],[-4,10],[5,18.5],[14,22.5],[28,24]],
[[28,24],[18,4],[8,-10],[-1,-18.5],[-11,-22.8],[-30,-24.5]],
[[-30,-24.5],[-20,-4],[-11,10],[-2,18.5],[8,23],[20,24.5],[34,24.5]],
[[34,24.5],[24,4],[14,-10],[4,-18],[-8,-22],[-34.6,-22.5]],
[[-34.6,-22.5],[-26,-5],[-18,8],[-8,17],[5,23],[12.6,24.9],[25,23.5],[33.5,21.6],[40,19],[44,16.6]],
[[44,16.6],[45.7,10.8],[44.9,2.5],[40.5,-5.8],[33.5,-14.1],[23,-19.9],[10.8,-22.4],[-4.9,-24],[-20,-24],[-30,-22],[-34.6,-21.6],[-34.6,-12],[-38,-8],[-44,-3],[-48.5,0.8]],
[[-48.5,0.8],[-46.8,4.2],[-43.3,10.8],[-36.3,14.1],[-25.8,15],[-18.8,15.5],[0,19],[19.5,20.8],[31.8,21.6]],
[[-48.5,0.8],[-41.5,-4.2],[-36.3,-7.5],[-29.3,-10.8],[-20.6,-13.3],[-12,-15]]
];

// ---------- layout ----------
const colLeft = [134, 675];
const rowTop = [69, 426, 783, 1139];
const plotW = 383, plotH = 321;
const panels = [
  { exp: expL1, env: expL1Env, envDash: 'solid', sim: simL1 },
  { exp: expR1, env: expR1Env, envDash: 'solid', sim: simR1 },
  { exp: expL2, env: expL2Env, envDash: 'solid', sim: simL2 },
  { exp: expR2, env: expR2Env, envDash: 'solid', sim: simR2 },
  { exp: expL3, env: expL3Env, envDash: [2.5, 1.5], sim: simL3 },
  { exp: expR3, env: [], envDash: 'solid', sim: simR3 },
  { exp: expL4, env: [], envDash: 'solid', sim: simL4 },
  { exp: expR4, env: [], envDash: 'solid', sim: simR4 }
];
const FONT = 'DejaVu Sans';
const SMOOTH = 0.45;

const grids = [], xAxes = [], yAxes = [], series = [];
panels.forEach(function (pd, p) {
  const row = Math.floor(p / 2), col = p % 2;
  grids.push({ left: colLeft[col], top: rowTop[row], width: plotW, height: plotH,
    show: true, borderColor: '#7a7a7a', borderWidth: 1.3, backgroundColor: '#fff' });
  xAxes.push({ gridIndex: p, type: 'value', min: dispRange[0], max: dispRange[1], interval: 50,
    axisLine: { show: true, onZero: false, lineStyle: { color: '#7a7a7a', width: 1.3 } },
    axisTick: { show: true, inside: true, length: 3, lineStyle: { color: '#7a7a7a' } },
    splitLine: { show: true, lineStyle: { color: '#e2e2e2', width: 1 } },
    axisLabel: { show: row === 3, color: '#555', fontSize: 12.5, fontFamily: FONT, margin: 4 } });
  yAxes.push({ gridIndex: p, type: 'value', min: forceRange[0], max: forceRange[1], interval: 20,
    axisLine: { show: true, onZero: false, lineStyle: { color: '#7a7a7a', width: 1.3 } },
    axisTick: { show: true, inside: true, length: 3, lineStyle: { color: '#7a7a7a' } },
    splitLine: { show: true, lineStyle: { color: '#e2e2e2', width: 1 } },
    axisLabel: { color: '#555', fontSize: 12.5, fontFamily: FONT, margin: 5 } });
  pd.exp.forEach(function (br) {
    series.push({ type: 'line', xAxisIndex: p, yAxisIndex: p, data: br, showSymbol: false,
      smooth: SMOOTH, silent: true, z: 2,
      lineStyle: { color: '#141414', width: 1.6, type: [4, 2.6] } });
  });
  pd.env.forEach(function (br) {
    series.push({ type: 'line', xAxisIndex: p, yAxisIndex: p, data: br, showSymbol: false,
      smooth: SMOOTH, silent: true, z: 2,
      lineStyle: { color: '#111', width: 1.9, type: pd.envDash } });
  });
  pd.sim.forEach(function (br) {
    series.push({ type: 'line', xAxisIndex: p, yAxisIndex: p, data: br, showSymbol: false,
      smooth: SMOOTH, silent: true, z: 3,
      lineStyle: { color: 'rgba(255,0,0,0.82)', width: 1.3 } });
  });
});

const graphics = [];
graphics.push({ type: 'line', shape: { x1: 590, y1: 0, x2: 590, y2: 1510 },
  style: { stroke: '#d8d0d0', lineWidth: 1.5 } });
[316, 860].forEach(function (cx, i) {
  graphics.push({ type: 'text', x: cx, y: 22, style: { text: colTitles[i], font: '26px "' + FONT + '"',
    fill: '#222', textAlign: 'center', textVerticalAlign: 'middle' } });
});
[231, 603, 947, 1293].forEach(function (cy) {
  graphics.push({ type: 'text', x: 12, y: cy, style: { text: 'Force (kN)', font: '18.5px "' + FONT + '"',
    fill: '#444', textAlign: 'left', textVerticalAlign: 'middle' } });
});
[330, 873].forEach(function (cx) {
  graphics.push({ type: 'text', x: cx, y: 1493, style: { text: 'Displacement (mm)', font: '18.5px "' + FONT + '"',
    fill: '#444', textAlign: 'center', textVerticalAlign: 'middle' } });
});
panelLabels.forEach(function (lab, p) {
  const row = Math.floor(p / 2), col = p % 2;
  graphics.push({ type: 'text', x: colLeft[col] + plotW - 3, y: rowTop[row] + plotH - 10,
    style: { text: lab, font: '16px "' + FONT + '"', fill: '#333', textAlign: 'right', textVerticalAlign: 'middle' }, z: 10 });
});
// key annotations in the first panel
graphics.push({ type: 'text', x: 253, y: 79, style: { text: 'Experimental', font: '17px "' + FONT + '"',
  fill: '#222', textAlign: 'left', textVerticalAlign: 'middle' }, z: 10 });
graphics.push({ type: 'line', shape: { x1: 368, y1: 80, x2: 410, y2: 89 }, style: { stroke: '#555', lineWidth: 1 }, z: 10 });
graphics.push({ type: 'text', x: 148, y: 99, style: { text: 'OpenSees', font: '17px "' + FONT + '"',
  fill: '#ff2a2a', textAlign: 'left', textVerticalAlign: 'middle' }, z: 10 });
graphics.push({ type: 'line', shape: { x1: 236, y1: 105, x2: 272, y2: 116 }, style: { stroke: '#ff4040', lineWidth: 1 }, z: 10 });

const chart = echarts.init(document.getElementById('chart'), null, { renderer: 'canvas' });
chart.setOption({
  animation: false,
  backgroundColor: '#fff',
  grid: grids, xAxis: xAxes, yAxis: yAxes,
  series: series,
  graphic: graphics
});
</script></body></html>
